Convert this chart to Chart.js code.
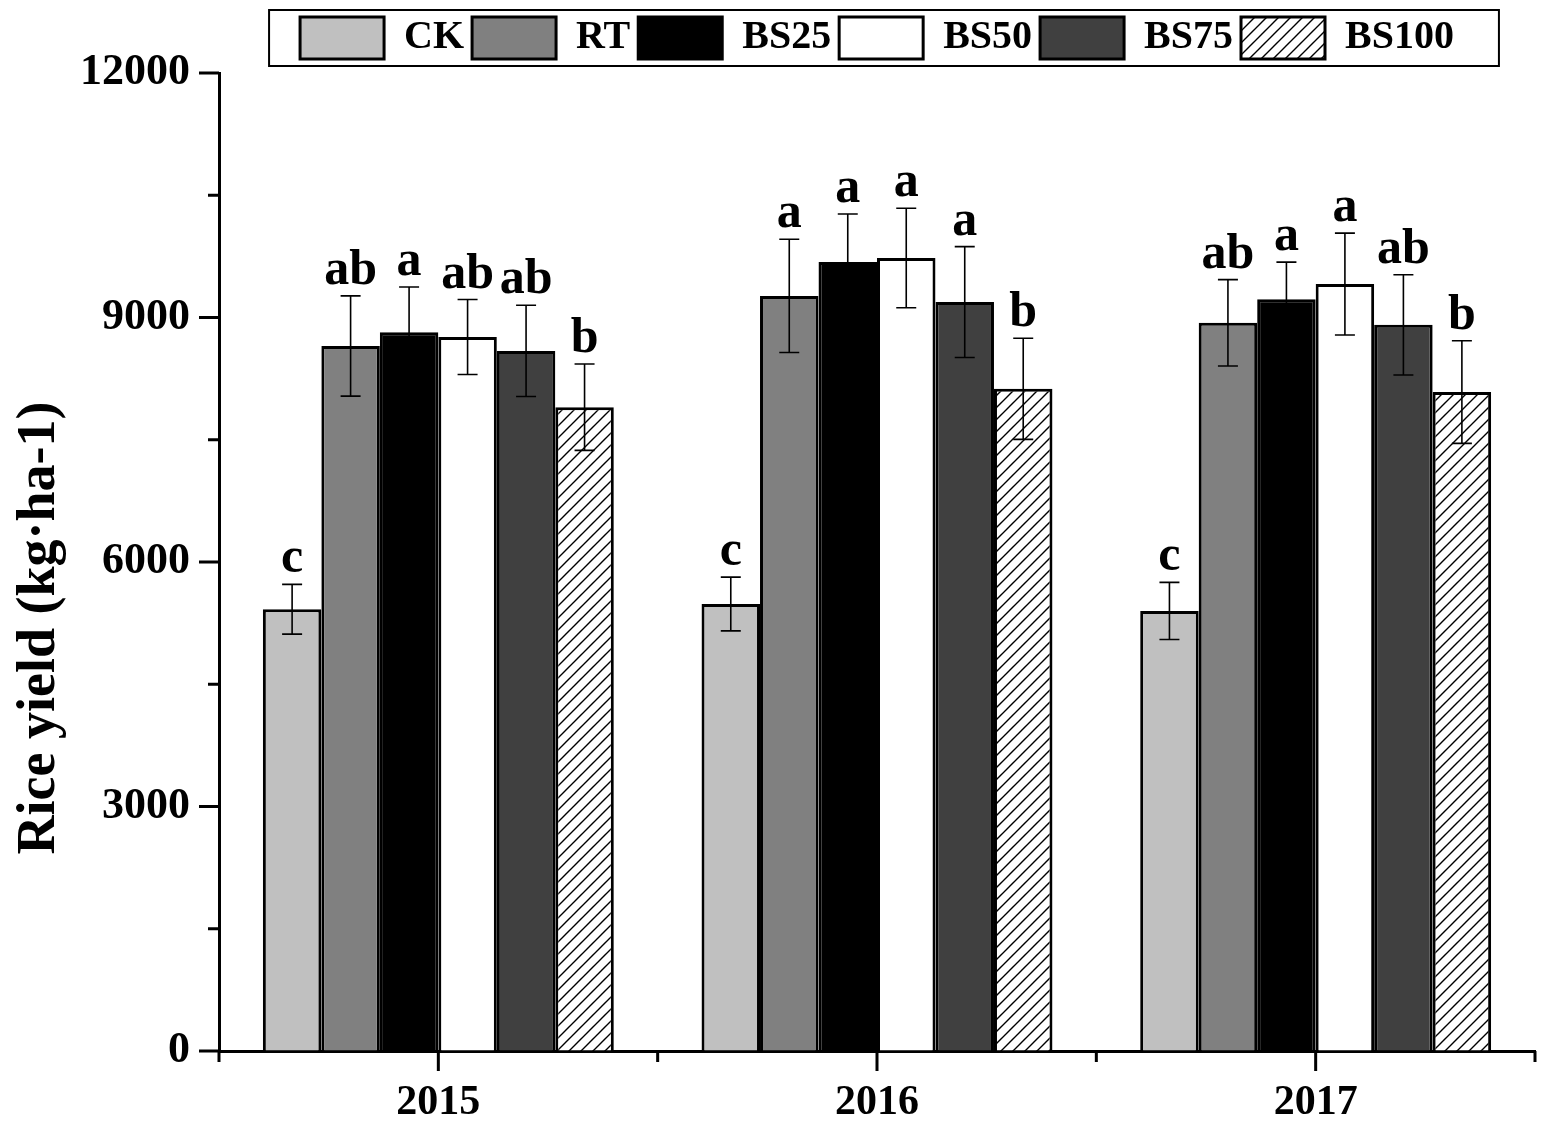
<!DOCTYPE html>
<html lang="en">
<head>
  <meta charset="UTF-8">
  <title>Rice yield 2015-2017</title>
  <script src="https://cdn.jsdelivr.net/npm/chart.js"></script>
  <style>
    body { margin: 0; background: #fff; }
    canvas { display: block; }
  </style>
</head>
<body>
  <canvas id="yieldChart" width="1541" height="1133"></canvas>

  <script>
    const years = ['2015', '2016', '2017'];
    const treatments = ['CK', 'RT', 'BS25', 'BS50', 'BS75', 'BS100'];

    // mean yield (kg/ha) per treatment, one value per year
    const ck    = [5420, 5485, 5400];
    const rt    = [8650, 9265, 8935];
    const bs25  = [8820, 9680, 9225];
    const bs50  = [8760, 9730, 9410];
    const bs75  = [8590, 9190, 8910];
    const bs100 = [7900, 8125, 8085];

    // standard deviation
    const ckErr    = [305, 330, 350];
    const rtErr    = [615, 695, 530];
    const bs25Err  = [555, 590, 455];
    const bs50Err  = [460, 610, 625];
    const bs75Err  = [560, 680, 615];
    const bs100Err = [530, 620, 630];

    // significance letters
    const ckSig    = ['c', 'c', 'c'];
    const rtSig    = ['ab', 'a', 'ab'];
    const bs25Sig  = ['a', 'a', 'a'];
    const bs50Sig  = ['ab', 'a', 'a'];
    const bs75Sig  = ['ab', 'a', 'ab'];
    const bs100Sig = ['b', 'b', 'b'];

    const yTicks = [0, 3000, 6000, 9000, 12000];

    const values = [ck, rt, bs25, bs50, bs75, bs100];
    const errors = [ckErr, rtErr, bs25Err, bs50Err, bs75Err, bs100Err];
    const letters = [ckSig, rtSig, bs25Sig, bs50Sig, bs75Sig, bs100Sig];

    const serif = "'Liberation Serif', 'Times New Roman', serif";

    function hatchPattern() {
      const c = document.createElement('canvas');
      c.width = 12; c.height = 12;
      const g = c.getContext('2d');
      g.fillStyle = '#fff';
      g.fillRect(0, 0, 12, 12);
      g.strokeStyle = '#000';
      g.lineWidth = 1.4;
      g.beginPath();
      g.moveTo(0, 12); g.lineTo(12, 0);
      g.moveTo(-3, 3); g.lineTo(3, -3);
      g.moveTo(9, 15); g.lineTo(15, 9);
      g.stroke();
      return g.createPattern(c, 'repeat');
    }

    const fills = ['#c0c0c0', '#808080', '#000000', '#ffffff', '#404040', hatchPattern()];

    const legendSpace = {
      id: 'legendSpace',
      beforeInit(chart) {
        const fit = chart.legend.fit;
        chart.legend.fit = function () {
          fit.call(this);
          this.height += 4;
        };
      }
    };

    const legendFrame = {
      id: 'legendFrame',
      afterDraw(chart) {
        const lg = chart.legend;
        const hb = lg.legendHitBoxes;
        if (!hb || !hb.length) return;
        const last = hb[hb.length - 1];
        const left = hb[0].left - 31;
        const right = last.left + last.width + 45;
        const ctx = chart.ctx;
        ctx.save();
        ctx.strokeStyle = '#000';
        ctx.lineWidth = 2;
        ctx.strokeRect(left, lg.top + 1, right - left, 56);
        ctx.restore();
      }
    };

    const errorBars = {
      id: 'errorBars',
      afterDatasetsDraw(chart) {
        const { ctx, scales: { y } } = chart;
        ctx.save();
        ctx.strokeStyle = '#000';
        ctx.lineWidth = 1.6;
        ctx.fillStyle = '#000';
        ctx.font = 'bold 50px ' + serif;
        ctx.textAlign = 'center';
        ctx.textBaseline = 'alphabetic';
        chart.data.datasets.forEach((ds, di) => {
          chart.getDatasetMeta(di).data.forEach((bar, i) => {
            const v = values[di][i], e = errors[di][i];
            const top = y.getPixelForValue(v + e);
            const bot = y.getPixelForValue(v - e);
            ctx.beginPath();
            ctx.moveTo(bar.x, top); ctx.lineTo(bar.x, bot);
            ctx.moveTo(bar.x - 10, top); ctx.lineTo(bar.x + 10, top);
            ctx.moveTo(bar.x - 10, bot); ctx.lineTo(bar.x + 10, bot);
            ctx.stroke();
            ctx.fillText(letters[di][i], bar.x, top - 12);
          });
        });
        ctx.restore();
      }
    };

    const axisTicks = {
      id: 'axisTicks',
      afterDraw(chart) {
        const { ctx, chartArea: a, scales: { x, y } } = chart;
        ctx.save();
        ctx.strokeStyle = '#000';
        ctx.lineWidth = 3;
        ctx.beginPath();
        yTicks.forEach((t, i) => {
          const py = y.getPixelForValue(t);
          ctx.moveTo(a.left, py); ctx.lineTo(a.left - 20, py);
          if (i < yTicks.length - 1) {
            const pm = y.getPixelForValue((t + yTicks[i + 1]) / 2);
            ctx.moveTo(a.left, pm); ctx.lineTo(a.left - 11, pm);
          }
        });
        years.forEach((_, i) => {
          const px = x.getPixelForValue(i);
          ctx.moveTo(px, a.bottom); ctx.lineTo(px, a.bottom + 20);
        });
        for (let i = 0; i <= years.length; i++) {
          const px = x.getPixelForValue(i - 0.5);
          ctx.moveTo(px, a.bottom); ctx.lineTo(px, a.bottom + 11);
        }
        ctx.stroke();

        // y axis title
        ctx.fillStyle = '#000';
        ctx.font = 'bold 54px ' + serif;
        ctx.textAlign = 'center';
        ctx.textBaseline = 'middle';
        ctx.translate(40, 628);
        ctx.rotate(-Math.PI / 2);
        ctx.fillText('Rice yield (kg\u00b7ha-1)', 0, 0);
        ctx.restore();
      }
    };

    new Chart(document.getElementById('yieldChart'), {
      type: 'bar',
      data: {
        labels: years,
        datasets: treatments.map((name, i) => ({
          label: name,
          data: values[i],
          backgroundColor: fills[i],
          borderColor: '#000',
          borderWidth: 3,
          categoryPercentage: 0.8,
          barPercentage: 1.0
        }))
      },
      options: {
        responsive: false,
        animation: false,
        layout: { padding: { top: 9, right: 6, bottom: 0, left: 0 } },
        scales: {
          x: {
            grid: { drawOnChartArea: false, drawTicks: false },
            border: { color: '#000', width: 3 },
            ticks: { color: '#000', padding: 27, font: { family: serif, weight: 'bold', size: 42 } },
            afterFit: s => { s.height = 82; }
          },
          y: {
            min: 0,
            max: 12000,
            afterBuildTicks: s => { s.ticks = yTicks.map(v => ({ value: v })); },
            grid: { drawOnChartArea: false, drawTicks: false },
            border: { color: '#000', width: 3 },
            ticks: {
              color: '#000',
              padding: 29,
              font: { family: serif, weight: 'bold', size: 44 },
              callback: v => String(v)
            },
            afterFit: s => { s.width = 219; }
          }
        },
        plugins: {
          tooltip: { enabled: false },
          legend: {
            position: 'top',
            fullSize: false,
            labels: {
              boxWidth: 84,
              boxHeight: 42,
              padding: 8,
              color: '#000',
              font: { family: serif, weight: 'bold', size: 40 }
            }
          }
        }
      },
      plugins: [legendSpace, legendFrame, errorBars, axisTicks]
    });
  </script>
</body>
</html>
